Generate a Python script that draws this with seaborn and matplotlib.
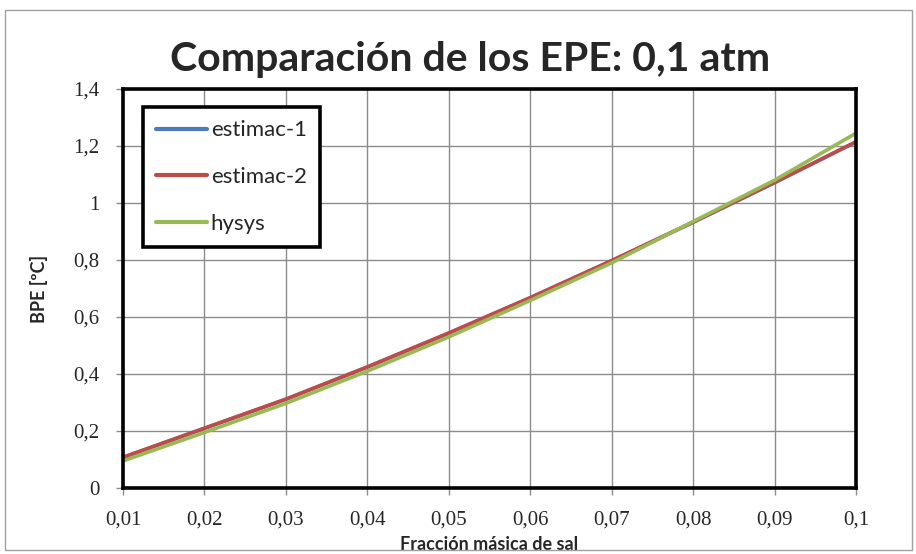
import matplotlib
matplotlib.use("Agg")
import matplotlib.pyplot as plt
import seaborn as sns
import pandas as pd
from matplotlib.patches import Rectangle

# ---- data ----
x_frac = [0.01, 0.02, 0.03, 0.04, 0.05, 0.06, 0.07, 0.08, 0.09, 0.10]
estimac_1 = [0.107, 0.209, 0.311, 0.424, 0.543, 0.667, 0.797, 0.932, 1.071, 1.214]
estimac_2 = [0.108, 0.210, 0.312, 0.425, 0.544, 0.668, 0.798, 0.933, 1.072, 1.215]
hysys = [0.095, 0.195, 0.297, 0.410, 0.530, 0.658, 0.790, 0.935, 1.080, 1.245]
series_names = ["estimac-1", "estimac-2", "hysys"]
series_colors = ["#4A7EBB", "#BE4B48", "#98B954"]

x_ticks = [0.01, 0.02, 0.03, 0.04, 0.05, 0.06, 0.07, 0.08, 0.09, 0.10]
x_tick_labels = ["0,01", "0,02", "0,03", "0,04", "0,05", "0,06", "0,07", "0,08", "0,09", "0,1"]
y_ticks = [0, 0.2, 0.4, 0.6, 0.8, 1.0, 1.2, 1.4]
y_tick_labels = ["0", "0,2", "0,4", "0,6", "0,8", "1", "1,2", "1,4"]

title = "Comparación de los EPE: 0,1 atm"
x_label = "Fracción másica de sal"
y_label = "BPE [ºC]"

df = pd.DataFrame({
    "x": x_frac * 3,
    "y": estimac_1 + estimac_2 + hysys,
    "serie": [series_names[0]] * len(x_frac) + [series_names[1]] * len(x_frac) + [series_names[2]] * len(x_frac),
})

sns.set_theme(style="white")
plt.rcParams["font.family"] = ["Lato", "DejaVu Sans"]

fig = plt.figure(figsize=(9.16, 5.54), dpi=100)
ax = fig.add_axes([123 / 916, 1 - 488 / 554, (856 - 123) / 916, (488 - 89) / 554])

# outer chart frame
fig.patches.append(Rectangle((5 / 916, 4 / 554), 907 / 916, 540 / 554, transform=fig.transFigure,
                             fill=False, edgecolor="#A0A0A0", linewidth=1.0))

sns.lineplot(data=df, x="x", y="y", hue="serie", palette=dict(zip(series_names, series_colors)),
             linewidth=2.6, ax=ax, legend=True)

ax.set_xlim(0.01, 0.10)
ax.set_ylim(0, 1.4)
ax.set_xticks(x_ticks)
ax.set_xticklabels(x_tick_labels, fontfamily="Liberation Serif", fontsize=15)
ax.set_yticks(y_ticks)
ax.set_yticklabels(y_tick_labels, fontfamily="Liberation Serif", fontsize=15)
ax.grid(True, color="#8C8C8C", linewidth=1.0)
ax.tick_params(axis="x", direction="out", length=5, width=1, color="#8C8C8C", pad=11, bottom=True)
ax.tick_params(axis="y", direction="out", length=5, width=1, color="#8C8C8C", pad=12, left=True)
for s in ax.spines.values():
    s.set_color("black")
    s.set_linewidth(2.6)

ax.set_xlabel(x_label, fontsize=13, fontweight="bold", labelpad=5)
ax.set_ylabel(y_label, fontsize=13, fontweight="bold", labelpad=18)
fig.text(470 / 916, 1 - 60 / 554, title, ha="center", va="center", fontsize=29.5, fontweight="bold")

leg = ax.legend(loc="upper left", bbox_to_anchor=((143 - 123) / 733, 1 - (107 - 89) / 399),
                frameon=True, fancybox=False, fontsize=16, handlelength=2.3, handletextpad=0.15,
                labelspacing=1.2, borderpad=0.6, borderaxespad=0)
leg.get_frame().set_edgecolor("black")
leg.get_frame().set_linewidth(2.6)
leg.get_frame().set_facecolor("white")
leg.get_frame().set_alpha(1)
for line in leg.get_lines():
    line.set_linewidth(3.0)

fig.savefig("out.png", dpi=100)
